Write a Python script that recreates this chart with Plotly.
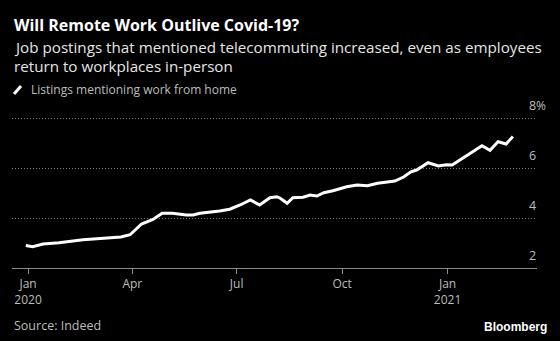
import plotly.graph_objects as go

# Share of job postings mentioning remote work (%)
dates = [
    "2019-12-30", "2020-01-05", "2020-01-14", "2020-01-28", "2020-02-18",
    "2020-03-05", "2020-03-22", "2020-03-30", "2020-04-05", "2020-04-09",
    "2020-04-19", "2020-04-27", "2020-05-06", "2020-05-18", "2020-05-24",
    "2020-05-30", "2020-06-16", "2020-06-25", "2020-07-04", "2020-07-13",
    "2020-07-21", "2020-07-30", "2020-08-05", "2020-08-08", "2020-08-14",
    "2020-08-19", "2020-08-28", "2020-09-03", "2020-09-09", "2020-09-15",
    "2020-09-23", "2020-10-05", "2020-10-14", "2020-10-23", "2020-11-01",
    "2020-11-09", "2020-11-16", "2020-11-24", "2020-11-30", "2020-12-05",
    "2020-12-15", "2020-12-24", "2020-12-31", "2021-01-05", "2021-01-12",
    "2021-01-21", "2021-01-31", "2021-02-07", "2021-02-14", "2021-02-21",
    "2021-02-27",
]
share = [
    2.90, 2.85, 2.96, 3.01, 3.13,
    3.17, 3.24, 3.33, 3.58, 3.76,
    3.94, 4.19, 4.19, 4.12, 4.12,
    4.19, 4.28, 4.35, 4.52, 4.72,
    4.52, 4.81, 4.85, 4.79, 4.59,
    4.81, 4.83, 4.92, 4.88, 5.01,
    5.09, 5.25, 5.32, 5.29, 5.39,
    5.44, 5.48, 5.65, 5.85, 5.92,
    6.21, 6.08, 6.13, 6.12, 6.32,
    6.59, 6.89, 6.71, 7.05, 6.96,
    7.26,
]

x_tick_vals = ["2020-01-01", "2020-04-01", "2020-07-01", "2020-10-01", "2021-01-01"]
x_tick_text = ["Jan<br>2020", "Apr", "Jul", "Oct", "Jan<br>2021"]
y_tick_vals = [2, 4, 6, 8]
y_tick_text = ["2", "4", "6", "8"]

FONT = "Open Sans"
GREY = "#bdbdbd"
W, H = 560, 341
PLOT_L, PLOT_R, PLOT_T, PLOT_B = 12, 537, 115, 268


def px_x(x):
    """Page pixel x -> plot-area paper fraction."""
    return (x - PLOT_L) / (PLOT_R - PLOT_L)


def px_y(y):
    """Page pixel y -> plot-area paper fraction."""
    return (PLOT_B - y) / (PLOT_B - PLOT_T)


fig = go.Figure()
fig.add_trace(go.Scatter(
    x=dates, y=share, mode="lines",
    line=dict(color="white", width=3),
    name="Listings mentioning work from home",
    showlegend=False,
    hoverinfo="skip",
))

fig.update_layout(
    width=W, height=H,
    margin=dict(l=PLOT_L, r=W - PLOT_R, t=PLOT_T, b=H - PLOT_B),
    paper_bgcolor="black", plot_bgcolor="black",
    font=dict(family=FONT, color=GREY, size=12),
    xaxis=dict(
        range=["2019-12-18", "2021-03-20"],
        tickvals=x_tick_vals, ticktext=x_tick_text,
        showgrid=False, zeroline=False,
        showline=True, linecolor="#8a8a8a", linewidth=1,
        ticks="outside", ticklen=5, tickcolor="#8a8a8a",
        tickfont=dict(family=FONT, size=12, color=GREY),
    ),
    yaxis=dict(
        range=[2, 8.12], tickvals=y_tick_vals, showticklabels=False,
        showgrid=True, gridcolor="#7a7a7a", griddash="1px,2px", gridwidth=1,
        zeroline=False, showline=False,
    ),
)

# Value labels sit just above their gridlines, right-aligned
for v, t in zip(y_tick_vals, y_tick_text):
    fig.add_annotation(
        x=1, xref="paper", y=v, yref="y", text=t, showarrow=False,
        xanchor="right", yanchor="bottom", yshift=2, xshift=1,
        font=dict(family=FONT, size=12.5, color=GREY),
    )
fig.add_annotation(
    x=1, xref="paper", y=8, yref="y", text="%", showarrow=False,
    xanchor="left", yanchor="bottom", yshift=2, xshift=-3,
    font=dict(family=FONT, size=12, color=GREY),
)

# Headline, subtitle, legend and footer
texts = [
    (12, 25, "<b>Will Remote Work Outlive Covid-19?</b>", 16, "white"),
    (12, 47, "Job postings that mentioned telecommuting increased, even as employees", 15.2, "#e6e6e6"),
    (12, 66, "return to workplaces in-person", 15.2, "#e6e6e6"),
    (29, 90, "Listings mentioning work from home", 12, GREY),
    (12, 325, "Source: Indeed", 12.5, GREY),
]
for x, y, t, s, c in texts:
    fig.add_annotation(
        x=px_x(x), xref="paper", y=px_y(y), yref="paper",
        yanchor="middle", xanchor="left", text=t, showarrow=False,
        font=dict(family=FONT, size=s, color=c),
    )
fig.add_annotation(
    x=px_x(549), xref="paper", y=px_y(327), yref="paper",
    yanchor="middle", xanchor="right", text="<b>Bloomberg</b>", showarrow=False,
    font=dict(family="Liberation Sans", size=12, color="white"),
)

# Legend swatch: short slanted stroke
fig.add_shape(
    type="line", xref="paper", yref="paper",
    x0=px_x(14), x1=px_x(21), y0=px_y(94), y1=px_y(86),
    line=dict(color="white", width=3),
)

fig.write_html("out.html")
